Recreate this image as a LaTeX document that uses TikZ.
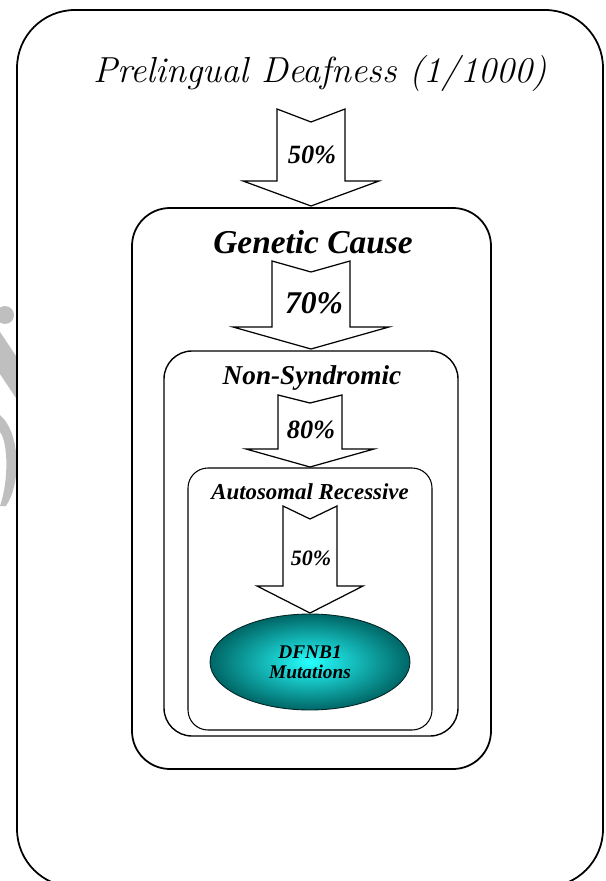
\documentclass[tikz,border=0pt]{standalone}
\usepackage{fontspec}
\newfontfamily\labelfont{Liberation Serif}
\usetikzlibrary{shapes.geometric,positioning}

% block arrow pointing down: centre x, half shaft, half head, top, notch, base, tip
\newcommand{\blockarrow}[7]{%
  \draw[barrow] (#1-#2,#4) -- (#1,#5) -- (#1+#2,#4) -- (#1+#2,#6) -- (#1+#3,#6)
    -- (#1,#7) -- (#1-#3,#6) -- (#1-#2,#6) -- cycle;}

\begin{document}
\begin{tikzpicture}[x=0.02cm, y=-0.02cm,
    frame/.style={draw=black, fill=white, line width=1pt},
    barrow/.style={draw=black, fill=white, line width=0.7pt, line join=miter},
    label/.style={inner sep=0pt},
    pct/.style={font=\labelfont\fontsize{15}{18}\selectfont\bfseries\itshape, inner sep=0pt}
]
    \useasboundingbox (0,0) rectangle (605,881);

    % Grey watermark at the left border
    \begin{scope}[fill=black!25]
        \fill (5,315) circle (9);
        \fill (0,332) -- (16,356) -- (16,398) -- (0,374) -- cycle;
        \fill (0,415) .. controls (20,432) and (22,482) .. (6,506) -- (0,506)
            .. controls (9,480) and (8,442) .. (0,432) -- cycle;
    \end{scope}

    % Nested frames
    \draw[frame, rounded corners=1.16cm] (17,10) rectangle (603,887);
    \draw[frame, rounded corners=0.76cm] (132,208) rectangle (491,769);
    \draw[frame, line width=0.8pt, rounded corners=0.56cm] (164,351) rectangle (458,736);
    \draw[frame, line width=0.6pt, rounded corners=0.4cm] (188,468) rectangle (432,730);

    % Block arrows
    \blockarrow{311}{34}{68}{109}{122}{181}{206}
    \blockarrow{311}{39}{78}{261}{272}{327}{349}
    \blockarrow{310}{32}{64}{395}{403}{449}{467}
    \blockarrow{310}{27}{53}{506}{519}{586}{613}

    % Titles of the frames
    \node[label, font=\fontsize{20.6}{24}\selectfont\itshape] (deaf) at (320,73) {Prelingual Deafness (1/1000)};
    \node[label, font=\labelfont\fontsize{19}{22}\selectfont\bfseries\itshape] (genetic) at (313,242) {Genetic Cause};
    \node[label, font=\labelfont\fontsize{15.5}{18}\selectfont\bfseries\itshape] (nonsyn) at (312,378) {Non-Syndromic};
    \node[label, font=\labelfont\fontsize{13}{16}\selectfont\bfseries\itshape] (autorec) at (310,492) {Autosomal Recessive};

    % Percentages
    \node[pct] (p1) at (312,155) {50\%};
    \node[pct, font=\labelfont\fontsize{18}{20}\selectfont\bfseries\itshape] (p2) at (314,303) {70\%};
    \node[pct] (p3) at (311,430) {80\%};
    \node[pct, font=\labelfont\fontsize{12.5}{15}\selectfont\bfseries\itshape] (p4) at (311,558) {50\%};

    % DFNB1 ellipse
    \node[ellipse, draw=black!70!teal, line width=0.5pt, minimum width=4cm, minimum height=1.92cm,
          inner sep=0pt, shading=radial, inner color=cyan!85!white, outer color=teal!80!black,
          align=center, font=\labelfont\fontsize{11}{11.5}\selectfont\bfseries\itshape] (dfnb) at (310,662)
          {DFNB1\\Mutations};
\end{tikzpicture}
\end{document}
